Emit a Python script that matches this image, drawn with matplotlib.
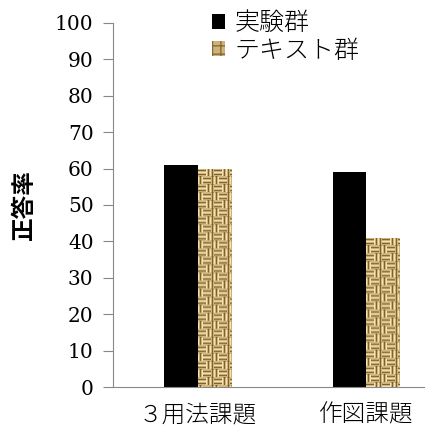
import numpy as np
import matplotlib.pyplot as plt
from matplotlib.colors import LinearSegmentedColormap

plt.rcParams['font.family'] = ['Noto Sans CJK JP', 'DejaVu Sans']

categories = ['３用法課題', '作図課題']
series_names = ['実験群', 'テキスト群']
exp_values = [61, 59]
text_values = [60, 41]
y_ticks = [0, 10, 20, 30, 40, 50, 60, 70, 80, 90, 100]


def weave_texture(rows, cols, cell=8):
    # 籠目模様（麻布風）のテクスチャを作る
    yy, xx = np.mgrid[0:rows, 0:cols]
    cy = yy // cell
    cx = (xx + 3 * (cy % 2)) // cell
    horiz = (cy + cx) % 2 == 0
    stripe_h = 0.55 + 0.45 * np.cos(2 * np.pi * (yy % cell) / (cell / 2))
    stripe_v = 0.55 + 0.45 * np.cos(2 * np.pi * (xx % cell) / (cell / 2))
    tex = np.where(horiz, stripe_h, stripe_v)
    edge = (yy % cell == 0)
    tex = np.where(edge, tex * 0.6, tex)
    return tex


burlap = LinearSegmentedColormap.from_list(
    'burlap', ['#7a5a26', '#b99a5c', '#dcc690', '#f1e4b8'])

fig = plt.figure(figsize=(4.25, 4.32), dpi=100)
ax = fig.add_axes([0.266, 0.104, 0.734, 0.843])

x = np.arange(len(categories))
w = 0.2
b1 = ax.bar(x - w / 2, exp_values, w, color='black', label=series_names[0], zorder=2)
b2 = ax.bar(x + w / 2, text_values, w, color='#cdb27a', edgecolor='#8a6a34',
            linewidth=0, hatch='++', label=series_names[1], zorder=2)

# テクスチャを棒に貼る
for bar in b2:
    bx, by = bar.get_x(), bar.get_y()
    bw, bh = bar.get_width(), bar.get_height()
    rows = max(int(bh * 3.64), 2)
    tex = weave_texture(rows, 34)
    im = ax.imshow(tex, cmap=burlap, extent=(bx, bx + bw, by, by + bh),
                   aspect='auto', interpolation='bilinear', zorder=3)
    im.set_clip_path(bar)

ax.set_xlim(-0.505, 1.35)
ax.set_ylim(0, 100)
ax.set_yticks(y_ticks)
ax.set_yticklabels([str(t) for t in y_ticks], family=['DejaVu Serif'], fontsize=14.5)
ax.set_xticks(x)
ax.set_xticklabels(categories, fontsize=17, fontweight='light')
ax.tick_params(axis='x', length=0, pad=11)
ax.tick_params(axis='y', length=7, color='#888888', pad=7)

for s in ['top', 'right']:
    ax.spines[s].set_visible(False)
for s in ['left', 'bottom']:
    ax.spines[s].set_color('#888888')

ax.set_ylabel('正答率', fontsize=17, fontweight='bold', labelpad=14)

leg = fig.legend(handles=[b1, b2], loc='upper left', bbox_to_anchor=(0.445, 1.03),
                 frameon=False, prop={'size': 18, 'weight': 'light'},
                 handlelength=0.55, handleheight=0.55,
                 handletextpad=0.35, labelspacing=0.05)

fig.savefig('out.png', dpi=100)
